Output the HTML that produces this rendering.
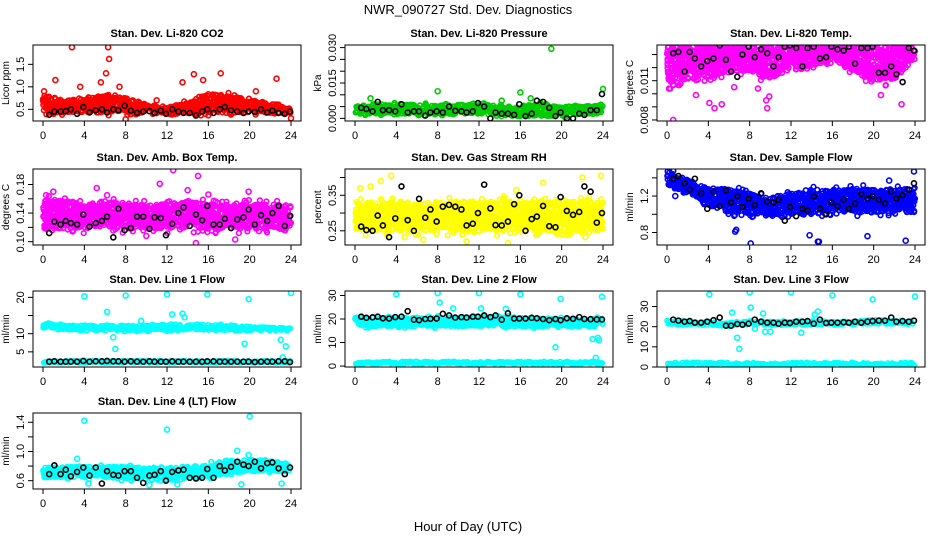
<!DOCTYPE html>
<html><head><meta charset="utf-8"><style>
body{margin:0;background:#fff}
svg{display:block;font-family:"Liberation Sans",sans-serif}
</style></head><body>
<svg id="chart" width="936" height="540" viewBox="0 0 936 540" xmlns="http://www.w3.org/2000/svg">
<defs id="defs"></defs>
<text x="468" y="14" text-anchor="middle" font-size="13">NWR_090727  Std. Dev. Diagnostics</text>
<text x="468" y="531" text-anchor="middle" font-size="13">Hour of Day (UTC)</text>
</svg>
<script>
const xTicks = [0,4,8,12,16,20,24];
const bandHours = [0,2,4,6,8,10,12,14,16,18,20,22,24];
const blackHours = [0.6,1.1,1.7,2.2,2.7,3.3,3.9,4.5,5.1,5.7,6.2,6.8,7.3,7.9,8.5,9.1,9.7,10.3,10.8,11.4,11.9,12.5,13.1,13.6,14.2,14.8,15.4,15.9,16.5,17.1,17.6,18.2,18.8,19.4,19.9,20.5,21.1,21.7,22.2,22.8,23.4,23.9];

// Panel 1: CO2
const co2Lo = [0.38,0.38,0.38,0.38,0.38,0.38,0.34,0.36,0.38,0.38,0.38,0.36,0.36];
const co2Hi = [0.9,0.75,0.8,0.85,0.8,0.65,0.6,0.7,0.9,0.85,0.75,0.7,0.55];
const co2OutX = [2.8,6.3,6.4,6.1,1.2,5.6,7.4,14.6,17.2,22.6,15.5,13.5,20.6,8,24,0.1,3.6,11];
const co2OutY = [1.88,1.88,1.62,1.3,1.15,1.1,1.0,1.28,1.3,1.18,1.15,1.1,0.9,0.28,0.3,0.9,1.0,0.7];
const co2Black = [0.38,0.45,0.45,0.46,0.5,0.4,0.55,0.43,0.48,0.5,0.43,0.5,0.48,0.58,0.47,0.42,0.45,0.46,0.42,0.47,0.4,0.5,0.45,0.42,0.42,0.36,0.45,0.5,0.42,0.5,0.55,0.48,0.45,0.42,0.45,0.44,0.5,0.43,0.47,0.42,0.4,0.45];
// Panel 2: Pressure
const presLo = [0.001,0.001,0.001,0.001,0.001,0.001,0.001,0,0,0,0,0.001,0.001];
const presHi = [0.006,0.007,0.007,0.007,0.006,0.007,0.007,0.006,0.006,0.007,0.006,0.006,0.007];
const presOutX = [8,16,19,24,1.5,14.2,17];
const presOutY = [0.0115,0.011,0.0295,0.0125,0.0085,0.0075,0.0085];
const presBlack = [0.0045,0.004,0.003,0.007,0.0035,0.0035,0.003,0.006,0.0025,0.003,0.003,0.0012,0.0025,0.003,0.0025,0.005,0.0032,0.003,0.0025,0.003,0.0065,0.005,0,0.0025,0.002,0.002,0.0015,0.006,0.001,0.002,0.0075,0.007,0.0045,0.001,0.0025,0,0,0.002,0.0015,0.0035,0.0035,0.0103];
// Panel 3: Temp
const tempLo = [0.0106,0.0110,0.0110,0.0115,0.0115,0.0110,0.0118,0.0120,0.0124,0.0116,0.0108,0.0110,0.0125];
const tempHi = [0.0138,0.0138,0.0138,0.0138,0.0138,0.0138,0.0138,0.0138,0.0138,0.0138,0.0138,0.0138,0.0138];
const tempOutX = [0.6,2.8,4.1,4.6,5.3,9.7,9.6,9.9,13,20.7,22.7,0.2,6.5,8.8];
const tempOutY = [0.0080,0.0099,0.0093,0.0089,0.0092,0.0089,0.0095,0.0098,0.0119,0.0099,0.0092,0.0104,0.0105,0.0104];
const tempBlack = [0.0131,0.0132,0.0117,0.0132,0.0127,0.0121,0.0125,0.0127,0.0137,0.0126,0.0117,0.0113,0.0130,0.0136,0.0128,0.0134,0.0131,0.0121,0.0128,0.0136,0.0137,0.0135,0.0121,0.0135,0.0136,0.0127,0.0128,0.0136,0.0134,0.0133,0.0136,0.0123,0.0135,0.0135,0.0136,0.0116,0.0116,0.0121,0.0115,0.0109,0.0135,0.0133];
// Panel 4: Amb box temp
const ambLo = [0.115,0.115,0.115,0.118,0.115,0.115,0.115,0.117,0.115,0.115,0.115,0.116,0.115];
const ambHi = [0.16,0.16,0.155,0.16,0.155,0.155,0.155,0.16,0.155,0.155,0.155,0.155,0.155];
const ambOutX = [12.6,15,11.3,5.2,1,14,19.9,0.3,14.8,18.6,10,16,6.2];
const ambOutY = [0.2,0.192,0.181,0.175,0.17,0.172,0.17,0.165,0.098,0.103,0.108,0.166,0.165];
const ambBlack = [0.112,0.128,0.124,0.129,0.126,0.124,0.138,0.121,0.126,0.129,0.135,0.106,0.146,0.116,0.119,0.135,0.135,0.118,0.134,0.133,0.109,0.125,0.14,0.148,0.122,0.138,0.13,0.15,0.124,0.124,0.132,0.119,0.131,0.134,0.145,0.124,0.137,0.129,0.14,0.15,0.122,0.136];
// Panel 5: RH
const rhLo = [0.245,0.245,0.245,0.245,0.245,0.245,0.245,0.245,0.245,0.245,0.245,0.245,0.245];
const rhHi = [0.335,0.335,0.34,0.335,0.335,0.34,0.335,0.34,0.335,0.34,0.335,0.34,0.335];
const rhOutX = [3.5,2.5,0.5,1.5,15.6,18.2,22,23.8,14.8,6.6,4.8,10.8,22.3];
const rhOutY = [0.405,0.39,0.37,0.375,0.365,0.385,0.4,0.405,0.215,0.225,0.232,0.22,0.232];
const rhBlack = [0.262,0.252,0.25,0.293,0.265,0.232,0.285,0.375,0.28,0.25,0.34,0.287,0.31,0.276,0.318,0.323,0.318,0.31,0.265,0.27,0.3,0.38,0.313,0.266,0.265,0.276,0.325,0.35,0.25,0.283,0.29,0.32,0.263,0.26,0.345,0.306,0.295,0.303,0.375,0.36,0.273,0.3];
// Panel 6: Sample flow
const sfLo = [1.3,1.2,1.08,1.0,0.98,0.97,0.98,0.98,1.0,1.0,1.0,1.0,1.0];
const sfHi = [1.5,1.4,1.3,1.3,1.25,1.2,1.25,1.28,1.28,1.3,1.3,1.3,1.3];
const sfOutX = [8.1,14.6,14.7,23.1,19.4,13.8,6.6,6.7,23.9,21.5,0.8];
const sfOutY = [0.68,0.7,0.7,0.71,0.76,0.77,0.81,0.83,1.47,1.37,1.2];
const sfBlack = [1.39,1.42,1.34,1.27,1.39,1.23,1.06,1.25,1.09,1.26,1.13,1.2,1.08,1.17,1.1,1.23,1.14,1.13,1.16,0.93,1.08,0.98,1.06,1.04,1.2,1.06,1.0,1.13,1.09,1.16,1.06,1.12,1.22,1.17,1.2,1.16,1.12,1.25,1.17,1.21,1.27,1.34];
// Panel 7: Line 1
const l1Lo = [11,10.5,10.3,10.5,10.3,10.3,10.3,10.6,10.5,10.3,10.3,10.3,10.7];
const l1Hi = [13.4,12.8,12.8,13,12.8,12.8,13,13.3,13,12.8,12.5,12.2,11.7];
const l1LowLo = [1.8,1.8,1.8,1.8,1.8,1.8,1.8,1.8,1.8,1.8,1.8,1.8,1.8];
const l1LowHi = [2.7,2.7,2.7,2.7,2.7,2.7,2.7,2.7,2.7,2.7,2.7,2.7,2.7];
const l1OutX = [4,8,12,15.9,19.9,24,6.2,6.8,7,12.5,13.5,19.5,23,23.5,23.2,13.7,9.5];
const l1OutY = [20.3,20.5,20.8,20.8,19.5,21.2,16,9,5.8,15.3,15.5,7.2,8.3,6.5,3.5,14.5,13.5];
const l1Black = [2.3,2.4,2.3,2.3,2.3,2.3,2.5,2.3,2.4,2.4,2.5,2.4,2.4,2.3,2.4,2.3,2.3,2.4,2.3,2.3,2.3,2.4,2.3,2.3,2.3,2.3,2.3,2.4,2.4,2.3,2.3,2.3,2.3,2.3,2.3,2.2,2.3,2.3,2.3,2.4,2.4,2.2];
// Panel 8: Line 2
const l2Lo = [16,16,16,16,16,16,16,16,16,15.8,15.8,15.8,16];
const l2Hi = [21.5,21.5,21.3,21.5,21.5,21.5,21.5,21.8,21.3,21,21,21,21];
const l2LowLo = [0.6,0.6,0.6,0.6,0.6,0.6,0.6,0.6,0.6,0.6,0.6,0.6,0.6];
const l2LowHi = [2.2,2.2,2.2,2.2,2.2,2.2,2.2,2.2,2.2,2.2,2.2,2.2,2.2];
const l2OutX = [4,8,8.2,12,16,19.9,23.9,19.4,23,23.5,23.6,23.3,12.2,14.6,9.5];
const l2OutY = [30.5,31,27,31,30.5,28.5,29.5,8,11.5,12,11,3.5,24.5,24.3,24.5];
const l2Black = [21,20.5,20.7,21,20.3,20.2,20.8,21,23.3,19.7,19.5,20,20.1,20.2,22.2,21.5,20.6,20.8,20.6,21,21,21.5,20.8,21.5,19.7,22.4,20.2,20.2,20.2,20.5,20.3,20,19.5,20,19.5,20.3,20.1,20.8,20,19.9,19.8,19.8];
// Panel 9: Line 3
const l3Lo = [20,20,20,19.5,20,20,20,20,20,20,20.5,20.5,20.5];
const l3Hi = [24,23.5,23,23,23.5,23.5,23.5,24,23.5,23.5,24.5,24,23.5];
const l3LowLo = [0.3,0.3,0.3,0.3,0.3,0.3,0.3,0.3,0.3,0.3,0.3,0.3,0.3];
const l3LowHi = [2.7,2.7,2.7,2.7,2.7,2.7,2.7,2.7,2.7,2.7,2.7,2.7,2.7];
const l3OutX = [4.1,8,12,16,19.9,24,6.3,6.8,7,8.1,9.3,13,14.3,14.6,9.5,10,8.5];
const l3OutY = [36,37,37,35.5,33.5,35,27,14.5,9,29.5,26.5,17,26,27.5,17.5,17.5,19];
const l3Black = [23.5,23,22.5,22.8,22,22,22.5,23.2,24.5,20.5,20.5,21.3,21,21.5,23.5,22.5,22,22,21.5,22,21.8,22.5,22.5,22.8,21.5,23.5,21.8,22,22,22.2,22,22.5,22,22.5,22.8,23,23,24.5,22.5,22.8,22.5,23];
// Panel 10: Line 4
const l4Lo = [0.62,0.62,0.62,0.62,0.6,0.6,0.6,0.62,0.62,0.68,0.7,0.7,0.7];
const l4Hi = [0.82,0.82,0.82,0.82,0.82,0.8,0.82,0.82,0.85,0.92,0.92,0.9,0.85];
const l4OutX = [4,12,20,18.8,19.9,3.3,19.2,23.1,4.4,10.3,13];
const l4OutY = [1.42,1.3,1.48,1.01,0.95,0.9,0.55,0.56,0.56,0.54,0.55];
const l4Black = [0.69,0.81,0.69,0.75,0.66,0.72,0.78,0.67,0.78,0.56,0.73,0.68,0.67,0.73,0.73,0.64,0.57,0.67,0.68,0.73,0.6,0.72,0.74,0.75,0.64,0.63,0.64,0.76,0.64,0.8,0.74,0.79,0.86,0.82,0.8,0.86,0.77,0.84,0.85,0.77,0.69,0.78];

const NS = "http://www.w3.org/2000/svg";
const svg = document.getElementById('chart');
const defs = document.getElementById('defs');
function mk(tag, attrs, parent){const e=document.createElementNS(NS,tag);for(const k in attrs)e.setAttribute(k,attrs[k]);(parent||svg).appendChild(e);return e;}
function interp(arr,h){const i=Math.min(11,Math.floor(h/2));const t=(h-bandHours[i])/2;return arr[i]+(arr[i+1]-arr[i])*t;}
// deterministic texture jitter (visual scatter within the band, not data)
function hsh(n){const s=Math.sin(n*12.9898+78.233)*43758.5453;return s-Math.floor(s);}

const panels = [
 {id:'co2',title:'Stan. Dev. Li-820 CO2',ylab:'Licor ppm',col:0,row:0,dom:[0.24,1.93],ticks:[0.5,1.0,1.5],labels:['0.5','1.0','1.5'],color:'#ff0000',bands:[[co2Lo,co2Hi]],ox:co2OutX,oy:co2OutY,bk:co2Black},
 {id:'pressure',title:'Stan. Dev. Li-820 Pressure',ylab:'kPa',col:1,row:0,dom:[-0.0011,0.0311],ticks:[0,0.005,0.01,0.015,0.02,0.025,0.03],labels:['0.000','','','0.015','','','0.030'],color:'#00cd00',bands:[[presLo,presHi]],ox:presOutX,oy:presOutY,bk:presBlack},
 {id:'temp',title:'Stan. Dev. Li-820 Temp.',ylab:'degrees C',col:2,row:0,dom:[0.00792,0.01373],ticks:[0.008,0.009,0.010,0.011,0.012,0.013],labels:['0.008','','','0.011','',''],color:'#ff00ff',bands:[[tempLo,tempHi]],ox:tempOutX,oy:tempOutY,bk:tempBlack},
 {id:'amb-box-temp',title:'Stan. Dev. Amb. Box Temp.',ylab:'degrees C',col:0,row:1,dom:[0.0953,0.2017],ticks:[0.10,0.12,0.14,0.16,0.18],labels:['0.10','','0.14','','0.18'],color:'#ff00ff',bands:[[ambLo,ambHi]],ox:ambOutX,oy:ambOutY,bk:ambBlack},
 {id:'gas-stream-rh',title:'Stan. Dev. Gas Stream RH',ylab:'percent',col:1,row:1,dom:[0.21,0.424],ticks:[0.25,0.30,0.35,0.40],labels:['0.25','','0.35',''],color:'#ffff00',bands:[[rhLo,rhHi]],ox:rhOutX,oy:rhOutY,bk:rhBlack},
 {id:'sample-flow',title:'Stan. Dev. Sample Flow',ylab:'ml/min',col:2,row:1,dom:[0.663,1.497],ticks:[0.8,1.0,1.2,1.4],labels:['0.8','','1.2',''],color:'#0000ff',bands:[[sfLo,sfHi]],ox:sfOutX,oy:sfOutY,bk:sfBlack},
 {id:'line1-flow',title:'Stan. Dev. Line 1 Flow',ylab:'ml/min',col:0,row:2,dom:[0.83,21.75],ticks:[5,10,15,20],labels:['5','10','','20'],color:'#00ffff',bands:[[l1Lo,l1Hi],[l1LowLo,l1LowHi]],ox:l1OutX,oy:l1OutY,bk:l1Black},
 {id:'line2-flow',title:'Stan. Dev. Line 2 Flow',ylab:'ml/min',col:1,row:2,dom:[-0.4,31.9],ticks:[0,10,20,30],labels:['0','10','20','30'],color:'#00ffff',bands:[[l2Lo,l2Hi],[l2LowLo,l2LowHi]],ox:l2OutX,oy:l2OutY,bk:l2Black},
 {id:'line3-flow',title:'Stan. Dev. Line 3 Flow',ylab:'ml/min',col:2,row:2,dom:[0,37.7],ticks:[0,10,20,30],labels:['0','10','20','30'],color:'#00ffff',bands:[[l3Lo,l3Hi],[l3LowLo,l3LowHi]],ox:l3OutX,oy:l3OutY,bk:l3Black},
 {id:'line4-flow',title:'Stan. Dev. Line 4 (LT) Flow',ylab:'ml/min',col:0,row:3,dom:[0.486,1.527],ticks:[0.6,0.8,1.0,1.2,1.4],labels:['0.6','','1.0','','1.4'],color:'#00ffff',bands:[[l4Lo,l4Hi]],ox:l4OutX,oy:l4OutY,bk:l4Black}
];
const colLeft=[33,345,657], rowTop=[45,169,291,413], W=268, H=76;

panels.forEach((p,pi)=>{
  const L=colLeft[p.col], T=rowTop[p.row], B=T+H;
  const cp=mk('clipPath',{id:'clip'+pi},defs);
  mk('rect',{x:L,y:T,width:W,height:H},cp);
  const g=mk('g',{});
  
  
  const xs=h=>L+10+h*248/24;
  const ys=v=>B-(v-p.dom[0])/(p.dom[1]-p.dom[0])*H;
  const t=mk('text',{x:L+W/2,y:T-8,'text-anchor':'middle','font-size':'11','font-weight':'bold'},g);
  
  
  t.textContent=p.title;
  const clip=mk('g',{'clip-path':'url(#clip'+pi+')'},g);
  const cloud=mk('g',{fill:'none',stroke:p.color,'stroke-width':'1.6'},clip);
  
  
  let n=pi*10000;
  p.bands.forEach(([lo,hi])=>{
    for(let h=0.1;h<=23.95;h+=0.14){
      const y1=ys(interp(lo,h)), y2=ys(interp(hi,h));
      const top=Math.min(y1,y2), bot=Math.max(y1,y2), span=bot-top;
      if(span<7){
        n++;
        mk('circle',{cx:xs(h).toFixed(1),cy:((top+bot)/2+(hsh(n)-0.5)*span*0.6).toFixed(1),r:2.3},cloud);
        continue;
      }
      const cnt=Math.max(1,Math.round(span/3.2));
      for(let k=0;k<cnt;k++){
        n++;
        if(hsh(n)<0.14) continue;
        let f=hsh(n+0.5);
        f=0.5+(f-0.5)*(hsh(n+0.7)<0.85?1:1.35);
        const y=top+2+f*(span-4);
        const x=xs(h)+(hsh(n+0.3)-0.5)*2.4;
        mk('circle',{cx:x.toFixed(1),cy:y.toFixed(1),r:2.3},cloud);
      }
    }
  });
  p.ox.forEach((h,k)=>{
    const c=mk('circle',{cx:xs(h),cy:ys(p.oy[k]),r:2.5},cloud);
    
    
  });
  const bkg=mk('g',{fill:'none',stroke:'#000','stroke-width':'1.6'},clip);
  
  
  blackHours.forEach((h,k)=>{
    const c=mk('circle',{cx:xs(h),cy:ys(p.bk[k]),r:2.5},bkg);
    
    
  });
  const box=mk('rect',{x:L,y:T,width:W,height:H,fill:'none',stroke:'#000','stroke-width':'1'},g);
  
  
  const xa=mk('g',{stroke:'#000','stroke-width':'1'},g);
  
  
  mk('line',{x1:xs(0),x2:xs(24),y1:B,y2:B},xa);
  xTicks.forEach(v=>{
    mk('line',{x1:xs(v),x2:xs(v),y1:B,y2:B+5},xa);
    const tl=mk('text',{x:xs(v),y:B+18,'text-anchor':'middle','font-size':'11',stroke:'none',fill:'#000'},xa);
    
    
    tl.textContent=v;
  });
  const ya=mk('g',{stroke:'#000','stroke-width':'1'},g);
  
  
  const tv=p.ticks.filter(v=>v>=p.dom[0]&&v<=p.dom[1]);
  mk('line',{x1:L,x2:L,y1:ys(tv[0]),y2:ys(tv[tv.length-1])},ya);
  p.ticks.forEach((v,k)=>{
    if(v<p.dom[0]||v>p.dom[1])return;
    const y=ys(v);
    mk('line',{x1:L-5,x2:L,y1:y,y2:y},ya);
    if(p.labels[k]){
      const tl=mk('text',{x:L-9,y:y,'text-anchor':'middle','font-size':'11',stroke:'none',fill:'#000',transform:`rotate(-90 ${L-9} ${y})`},ya);
      
      
      tl.textContent=p.labels[k];
    }
  });
  const yl=mk('text',{x:L-24,y:T+H/2,'text-anchor':'middle','font-size':'10',transform:`rotate(-90 ${L-24} ${T+H/2})`},g);
  
  
  yl.textContent=p.ylab;
});
</script>
</body></html>
